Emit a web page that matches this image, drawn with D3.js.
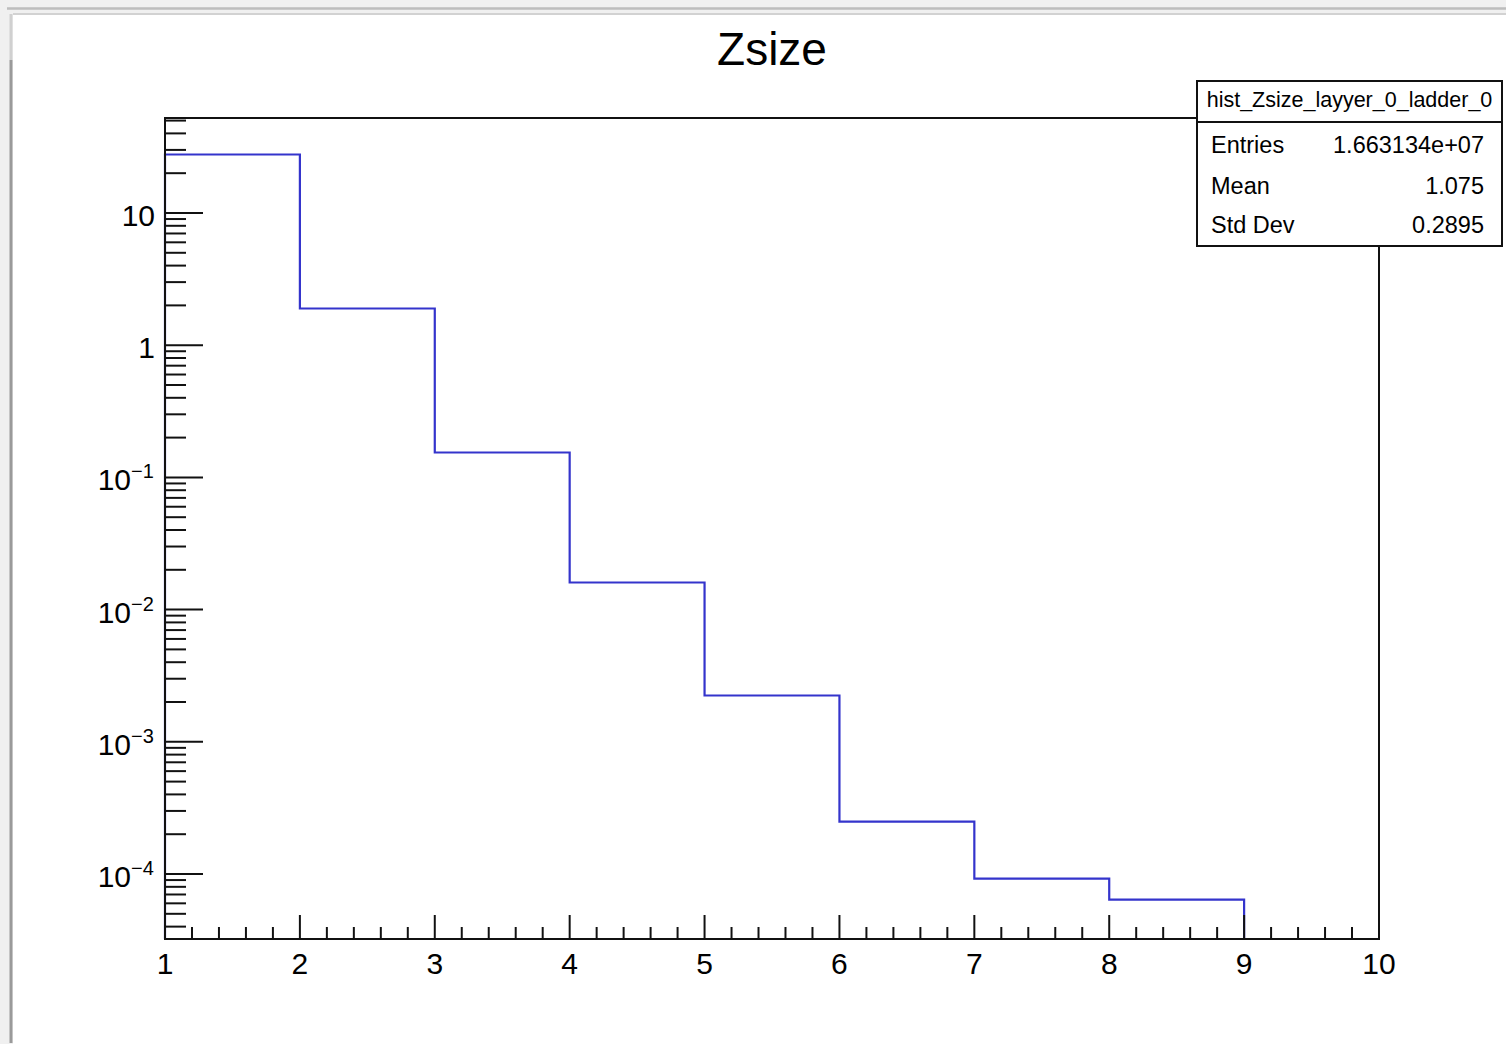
<!DOCTYPE html>
<html>
<head>
<meta charset="utf-8">
<script src="https://cdn.jsdelivr.net/npm/d3@7"></script>
<style>
  html, body { margin: 0; padding: 0; background: #f0f0f0; }
  svg { display: block; }
  text { font-family: "Liberation Sans", Arial, Helvetica, sans-serif; fill: #000; }
</style>
</head>
<body>
<svg id="chart" width="1506" height="1044"></svg>
<script>
// ---- data ----
const title = "Zsize";
const binEdges = [1, 2, 3, 4, 5, 6, 7, 8, 9, 10];
const binCounts = [27.7, 1.895, 0.1543, 0.01603, 0.00224, 2.49e-4, 9.24e-5, 6.41e-5, 0];
const xTickValues = [1, 2, 3, 4, 5, 6, 7, 8, 9, 10];
const yTickValues = [10, 1, 1e-1, 1e-2, 1e-3, 1e-4];
const yTickBase = ["10", "1", "10", "10", "10", "10"];
const yTickExp = ["", "", "−1", "−2", "−3", "−4"];
const statsName = "hist_Zsize_layyer_0_ladder_0";
const statsLabels = ["Entries", "Mean", "Std Dev"];
const statsValues = ["1.663134e+07", "1.075", "0.2895"];
const xDomain = [1, 10];
const yDomain = [3.224e-5, 52.3];

// ---- layout ----
const W = 1506, H = 1044;
const frame = { left: 165, right: 1379, top: 118, bottom: 939 };
const svg = d3.select("#chart");

// window background / canvas
svg.append("rect").attr("x", 0).attr("y", 0).attr("width", W).attr("height", H).attr("fill", "#f0f0f0");
svg.append("line").attr("x1", 7).attr("x2", W).attr("y1", 8.5).attr("y2", 8.5).attr("stroke", "#bdbdbd").attr("stroke-width", 2.5);
svg.append("rect").attr("x", 13).attr("y", 14).attr("width", W - 13).attr("height", H - 14).attr("fill", "#fff");
svg.append("line").attr("x1", 13).attr("x2", W).attr("y1", 14).attr("y2", 14).attr("stroke", "#d2d2d2").attr("stroke-width", 2);
svg.append("line").attr("x1", 11).attr("x2", 11).attr("y1", 14).attr("y2", 60).attr("stroke", "#d0d0d0").attr("stroke-width", 3);
svg.append("line").attr("x1", 11).attr("x2", 11).attr("y1", 60).attr("y2", 1043).attr("stroke", "#9a9a9a").attr("stroke-width", 3);

const x = d3.scaleLinear().domain(xDomain).range([frame.left, frame.right]);
const y = d3.scaleLog().domain(yDomain).range([frame.bottom, frame.top]);

// title
svg.append("text").attr("x", 772).attr("y", 65).attr("text-anchor", "middle")
  .attr("font-size", 46).text(title);

// histogram step line
const yv = v => (v > 0 ? Math.min(Math.max(y(v), frame.top), frame.bottom) : frame.bottom);
let d = `M${x(binEdges[0])},${frame.bottom}`;
binCounts.forEach((c, i) => {
  if (c > 0) {
    d += `V${yv(c)}H${x(binEdges[i + 1])}`;
  } else {
    d += `V${frame.bottom}`;
  }
});
svg.append("path").attr("d", d).attr("fill", "none").attr("stroke", "#3434cc").attr("stroke-width", 2.2);

// frame
svg.append("rect").attr("x", frame.left).attr("y", frame.top)
  .attr("width", frame.right - frame.left).attr("height", frame.bottom - frame.top)
  .attr("fill", "none").attr("stroke", "#111").attr("stroke-width", 2);

// x ticks
const axisG = svg.append("g").attr("stroke", "#111").attr("stroke-width", 2);
const xMinor = d3.range(xDomain[0], xDomain[1] + 1e-9, 0.2).filter(v => Math.abs(v - Math.round(v)) > 1e-6);
xTickValues.forEach(v => {
  axisG.append("line").attr("x1", x(v)).attr("x2", x(v)).attr("y1", frame.bottom).attr("y2", frame.bottom - 24);
});
xMinor.forEach(v => {
  axisG.append("line").attr("x1", x(v)).attr("x2", x(v)).attr("y1", frame.bottom).attr("y2", frame.bottom - 12);
});
svg.append("g").selectAll("text").data(xTickValues).join("text")
  .attr("x", v => x(v)).attr("y", 974).attr("text-anchor", "middle").attr("font-size", 30)
  .text(v => v);

// y ticks
const yMajorAll = [];
for (let e = -5; e <= 2; e++) yMajorAll.push(Math.pow(10, e));
yMajorAll.forEach(m => {
  if (m >= yDomain[0] && m <= yDomain[1]) {
    axisG.append("line").attr("x1", frame.left).attr("x2", frame.left + 38).attr("y1", y(m)).attr("y2", y(m));
  }
  for (let k = 2; k <= 9; k++) {
    const v = m * k;
    if (v >= yDomain[0] && v <= yDomain[1]) {
      axisG.append("line").attr("x1", frame.left).attr("x2", frame.left + 21).attr("y1", y(v)).attr("y2", y(v));
    }
  }
});
yTickValues.forEach((v, i) => {
  const t = svg.append("text").attr("x", yTickExp[i] ? 131 : 155).attr("y", y(v) + 13)
    .attr("text-anchor", "end").attr("font-size", 30).text(yTickBase[i]);
  if (yTickExp[i]) {
    svg.append("text").attr("x", 131).attr("y", y(v) + 1).attr("text-anchor", "start")
      .attr("font-size", 20).text(yTickExp[i]);
  }
});

// stats box
const sb = { x: 1197, y: 81, w: 305, h: 165, sep: 122 };
svg.append("rect").attr("x", sb.x).attr("y", sb.y).attr("width", sb.w).attr("height", sb.h)
  .attr("fill", "#fff").attr("stroke", "#111").attr("stroke-width", 2);
svg.append("line").attr("x1", sb.x).attr("x2", sb.x + sb.w).attr("y1", sb.sep).attr("y2", sb.sep)
  .attr("stroke", "#111").attr("stroke-width", 2);
svg.append("text").attr("x", sb.x + sb.w / 2).attr("y", 107).attr("text-anchor", "middle")
  .attr("font-size", 21.5).text(statsName);
const rowY = [153, 194, 233];
statsLabels.forEach((l, i) => {
  svg.append("text").attr("x", 1211).attr("y", rowY[i]).attr("font-size", 23.5).text(l);
  svg.append("text").attr("x", 1484).attr("y", rowY[i]).attr("text-anchor", "end").attr("font-size", 23.5).text(statsValues[i]);
});
</script>
</body>
</html>
